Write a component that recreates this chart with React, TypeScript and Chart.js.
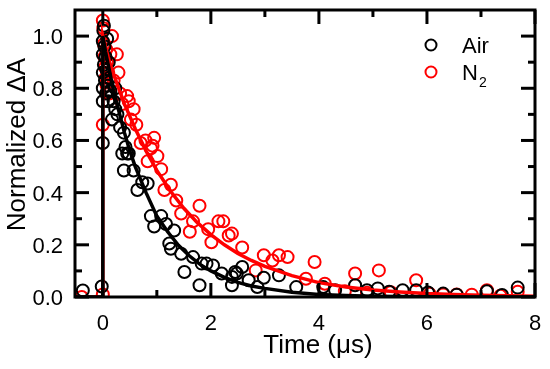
import React, { useEffect, useRef } from "react";
import { Chart, registerables } from "chart.js";

Chart.register(...registerables);

// ---- Data ----
const airTime = [
  -0.37, -0.02, 0, 0, 0, 0, 0, 0, 0.01, 0.02, 0.02, 0.03, 0.04, 0.05, 0.06, 0.07, 0.08, 0.09, 0.1, 0.11,
  0.12, 0.14, 0.17, 0.2, 0.23, 0.23, 0.27, 0.32, 0.36, 0.39, 0.39, 0.42, 0.45, 0.48, 0.57, 0.64, 0.73, 0.83,
  0.89, 0.95, 1.08, 1.17, 1.23, 1.26, 1.32, 1.45, 1.51, 1.67, 1.79, 1.83, 1.92, 2.04, 2.2, 2.39, 2.39, 2.45,
  2.48, 2.58, 2.7, 2.86, 2.98, 3.26, 3.58, 4.08, 4.3, 4.67, 4.89, 5.09, 5.3, 5.55, 5.8, 6.02, 6.3, 6.55,
  7.11, 7.39, 7.68,
];
const airSignal = [
  0.025, 0.04, 0.59, 0.75, 0.8, 0.86, 0.93, 0.98, 1.02, 1.04, 0.89, 0.96, 0.83, 0.92, 0.78, 0.87, 0.99, 0.81, 0.75, 0.9,
  0.84, 0.79, 0.68, 0.75, 0.8, 0.72, 0.7, 0.65, 0.55, 0.63, 0.485, 0.575, 0.55, 0.55, 0.485, 0.41, 0.44, 0.435,
  0.31, 0.27, 0.31, 0.28, 0.205, 0.185, 0.255, 0.166, 0.096, 0.153, 0.045, 0.128, 0.128, 0.121, 0.09, 0.077, 0.045, 0.096,
  0.09, 0.115, 0.064, 0.038, 0.074, 0.083, 0.038, 0.038, 0.026, 0.045, 0.026, 0.033, 0.02, 0.026, 0.026, 0.017, 0.013, 0.009,
  0.022, 0.008, 0.036,
];

const n2Time = [
  -0.39, 0, 0, 0, 0.01, 0.02, 0.03, 0.04, 0.05, 0.06, 0.07, 0.08, 0.1, 0.12, 0.14, 0.17, 0.2, 0.26, 0.29, 0.32,
  0.36, 0.45, 0.48, 0.52, 0.57, 0.62, 0.7, 0.79, 0.83, 0.89, 0.92, 0.95, 1.01, 1.08, 1.14, 1.26, 1.36, 1.45,
  1.61, 1.67, 1.79, 1.95, 2.01, 2.14, 2.23, 2.33, 2.39, 2.58, 2.83, 2.98, 3.14, 3.26, 3.42, 3.76, 3.92, 4.11,
  4.48, 4.67, 4.89, 5.11, 5.33, 5.8, 6.05, 6.3, 6.55, 6.83, 7.11, 7.36, 7.68,
];
const n2Signal = [
  0.0, 0.01, 0.66, 1.06, 1.03, 0.97, 0.92, 0.88, 0.84, 0.95, 0.81, 0.9, 0.86, 0.78, 0.93, 1.0, 0.83, 0.93, 0.86, 0.78,
  0.74, 0.77, 0.75, 0.68, 0.72, 0.66, 0.59, 0.6, 0.52, 0.57, 0.58, 0.61, 0.54, 0.49, 0.41, 0.43, 0.37, 0.32,
  0.25, 0.29, 0.35, 0.26, 0.21, 0.29, 0.29, 0.236, 0.243, 0.19, 0.102, 0.16, 0.14, 0.16, 0.153, 0.07, 0.134, 0.051,
  0.022, 0.09, 0.016, 0.102, 0.018, 0.064, 0.012, 0.01, 0.01, 0.009, 0.026, 0.005, 0.02,
];

// Fit curves
const airFitTime = [-0.52, 0, 0, 0.05, 0.1, 0.2, 0.3, 0.4, 0.5, 0.6, 0.8, 1.0, 1.2, 1.4, 1.6, 1.8, 2.0, 2.25, 2.5, 2.75, 3.0, 3.5, 4.0, 4.5, 5.0, 6.0, 7.0, 8.0];
const airFit = [0, 0, 1.0, 0.94, 0.89, 0.79, 0.71, 0.63, 0.56, 0.5, 0.4, 0.31, 0.25, 0.198, 0.158, 0.125, 0.1, 0.075, 0.056, 0.042, 0.033, 0.018, 0.01, 0.006, 0.003, 0.001, 0, 0];

const n2FitTime = [-0.52, 0, 0, 0.1, 0.2, 0.4, 0.6, 0.8, 1.0, 1.25, 1.5, 1.75, 2.0, 2.25, 2.5, 2.75, 3.0, 3.5, 4.0, 4.5, 5.0, 5.5, 6.0, 6.5, 7.0, 7.5, 8.0];
const n2Fit = [0, 0, 1.0, 0.917, 0.853, 0.74, 0.645, 0.56, 0.485, 0.406, 0.34, 0.285, 0.239, 0.2, 0.167, 0.14, 0.117, 0.082, 0.055, 0.038, 0.027, 0.019, 0.013, 0.01, 0.007, 0.005, 0.003];

const xTickValues = [0, 2, 4, 6, 8];
const xTickLabels = ["0", "2", "4", "6", "8"];
const xMinorValues = [1, 3, 5, 7];
const yTickValues = [0, 0.2, 0.4, 0.6, 0.8, 1.0];
const yTickLabels = ["0.0", "0.2", "0.4", "0.6", "0.8", "1.0"];
const yMinorValues = [0.1, 0.3, 0.5, 0.7, 0.9];

const seriesLabels = ["Air", "N"];
const seriesColors = ["#000000", "#ff0000"];
const xTitle = "Time (\u03bcs)";
const yTitle = "Normalized \u0394A";

const FONT = "'Liberation Sans', Arial, Helvetica, sans-serif";

const toPts = (xs: number[], ys: number[]) => xs.map((x, i) => ({ x, y: ys[i] }));

const framePlugin = {
  id: "frameTicks",
  afterDraw(chart: any) {
    const { ctx, chartArea, scales } = chart;
    const { left, right, top, bottom } = chartArea;
    const x = scales.x;
    const y = scales.y;
    ctx.save();
    ctx.strokeStyle = "#000";
    ctx.lineWidth = 3;
    ctx.lineCap = "butt";
    const seg = (x1: number, y1: number, x2: number, y2: number) => {
      ctx.beginPath();
      ctx.moveTo(x1, y1);
      ctx.lineTo(x2, y2);
      ctx.stroke();
    };
    const MAJ = 14;
    const MIN = 7;
    xTickValues.forEach((v) => {
      const p = x.getPixelForValue(v);
      seg(p, bottom, p, bottom - MAJ);
      seg(p, top, p, top + MAJ);
    });
    xMinorValues.forEach((v) => {
      const p = x.getPixelForValue(v);
      seg(p, bottom, p, bottom - MIN);
      seg(p, top, p, top + MIN);
    });
    yTickValues.forEach((v) => {
      const p = y.getPixelForValue(v);
      seg(left, p, left + MAJ, p);
      seg(right, p, right - MAJ, p);
    });
    yMinorValues.forEach((v) => {
      const p = y.getPixelForValue(v);
      seg(left, p, left + MIN, p);
      seg(right, p, right - MIN, p);
    });
    ctx.strokeRect(left, top, right - left, bottom - top);

    // Tick labels
    ctx.fillStyle = "#000";
    ctx.font = `22px ${FONT}`;
    ctx.textBaseline = "alphabetic";
    ctx.textAlign = "center";
    xTickValues.forEach((v, i) => {
      ctx.fillText(xTickLabels[i], x.getPixelForValue(v), 330);
    });
    ctx.textAlign = "right";
    yTickValues.forEach((v, i) => {
      ctx.fillText(yTickLabels[i], left - 12, y.getPixelForValue(v) + 8);
    });

    // Axis titles
    ctx.font = `26px ${FONT}`;
    ctx.textAlign = "center";
    ctx.fillText(xTitle, 318, 353);
    ctx.save();
    ctx.translate(25, 144.5);
    ctx.rotate(-Math.PI / 2);
    ctx.fillText(yTitle, 0, 0);
    ctx.restore();

    // Legend
    const legendY = [45, 72];
    ctx.lineWidth = 2;
    seriesLabels.forEach((lab, i) => {
      ctx.strokeStyle = seriesColors[i];
      ctx.beginPath();
      ctx.arc(431, legendY[i], 5.5, 0, Math.PI * 2);
      ctx.stroke();
      ctx.fillStyle = "#000";
      ctx.font = `22px ${FONT}`;
      ctx.textAlign = "left";
      ctx.fillText(lab, 462, legendY[i] + 8);
      if (i === 1) {
        const w = ctx.measureText(lab).width;
        ctx.font = `14px ${FONT}`;
        ctx.fillText("2", 462 + w + 1, legendY[i] + 15);
      }
    });
    ctx.restore();
  },
};

export default function App() {
  const canvasRef = useRef<HTMLCanvasElement | null>(null);

  useEffect(() => {
    const canvas = canvasRef.current;
    if (!canvas) return;
    const chart = new Chart(canvas, {
      type: "scatter",
      data: {
        datasets: [
          {
            label: "Air fit",
            data: toPts(airFitTime, airFit),
            showLine: true,
            pointRadius: 0,
            borderColor: seriesColors[0],
            borderWidth: 3.5,
            order: 0,
          },
          {
            label: "N2 fit",
            data: toPts(n2FitTime, n2Fit),
            showLine: true,
            pointRadius: 0,
            borderColor: seriesColors[1],
            borderWidth: 3.5,
            order: 1,
          },
          {
            label: "Air",
            data: toPts(airTime, airSignal),
            showLine: false,
            pointRadius: 6,
            pointBorderWidth: 2,
            pointBorderColor: seriesColors[0],
            pointBackgroundColor: "rgba(0,0,0,0)",
            order: 2,
          },
          {
            label: "N2",
            data: toPts(n2Time, n2Signal),
            showLine: false,
            pointRadius: 6,
            pointBorderWidth: 2,
            pointBorderColor: seriesColors[1],
            pointBackgroundColor: "rgba(0,0,0,0)",
            order: 3,
          },
        ],
      } as any,
      options: {
        animation: false,
        responsive: false,
        events: [],
        layout: { padding: { top: 10, right: 15, left: 0, bottom: 0 } },
        plugins: { legend: { display: false }, tooltip: { enabled: false } },
        scales: {
          x: {
            type: "linear",
            min: -0.515,
            max: 8,
            border: { display: false },
            grid: { display: false, drawTicks: false },
            afterBuildTicks: (s: any) => {
              s.ticks = xTickValues.map((v) => ({ value: v }));
            },
            afterFit: (s: any) => {
              s.height = 72;
              s.paddingLeft = 0;
              s.paddingRight = 0;
            },
            ticks: { display: false },
          },
          y: {
            type: "linear",
            min: 0,
            max: 1.1,
            border: { display: false },
            grid: { display: false, drawTicks: false },
            afterBuildTicks: (s: any) => {
              s.ticks = yTickValues.map((v) => ({ value: v }));
            },
            afterFit: (s: any) => {
              s.width = 75;
              s.paddingTop = 0;
              s.paddingBottom = 0;
            },
            ticks: { display: false },
          },
        },
      } as any,
      plugins: [framePlugin],
    });
    return () => chart.destroy();
  }, []);

  return (
    <div style={{ position: "fixed", left: 0, top: 0, width: 550, height: 369, background: "#fff" }}>
      <canvas ref={canvasRef} width={550} height={369} style={{ display: "block" }} />
    </div>
  );
}
